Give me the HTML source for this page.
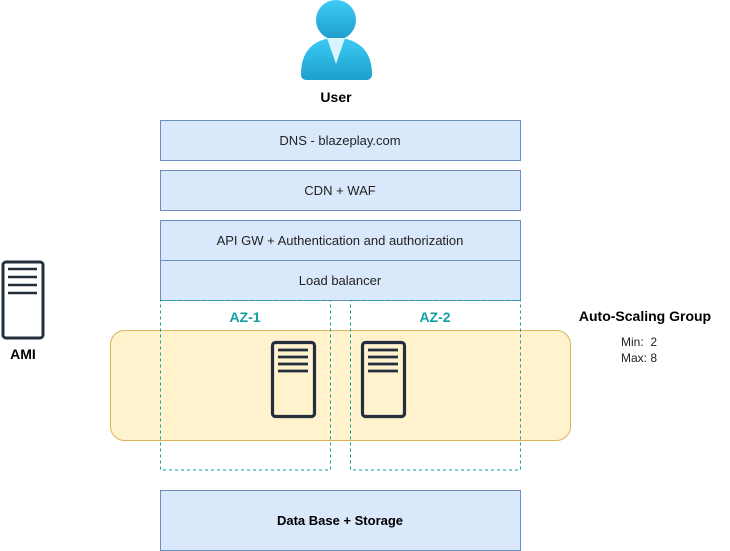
<!DOCTYPE html>
<html><head><style>body{margin:0;background:#fff}svg{display:block}</style></head><body>
<svg width="730" height="551" viewBox="0 0 730 551" xmlns="http://www.w3.org/2000/svg" font-family="Liberation Sans, Arial, sans-serif">
<defs><linearGradient id="ug" x1="0" y1="0" x2="0" y2="1"><stop offset="0" stop-color="#3ccbf4"/><stop offset="1" stop-color="#1d9ecb"/></linearGradient></defs>
<circle cx="336" cy="20" r="20" fill="url(#ug)"/>
<path d="M301 74 C301 50 315 38 336 38 C357 38 372 50 372 74 Q372 80 366 80 L307 80 Q301 80 301 74 Z" fill="url(#ug)"/>
<path d="M327 38 L345 38 L336 64 Z" fill="#d6f5fd"/>
<text x="336" y="102" font-size="14" font-weight="bold" text-anchor="middle" fill="#000">User</text>
<g fill="#dae8fc" stroke="#6c8ebf" stroke-width="1">
<rect x="160.5" y="120.5" width="360" height="40"/>
<rect x="160.5" y="170.5" width="360" height="40"/>
<rect x="160.5" y="220.5" width="360" height="40"/>
<rect x="160.5" y="260.5" width="360" height="40"/>
<rect x="160.5" y="490.5" width="360" height="60"/>
</g>
<g font-size="13" text-anchor="middle" fill="#222">
<text x="340" y="145">DNS - blazeplay.com</text>
<text x="340" y="195">CDN + WAF</text>
<text x="340" y="245">API GW + Authentication and authorization</text>
<text x="340" y="285">Load balancer</text>
</g>
<text x="340" y="525" font-size="13" font-weight="bold" text-anchor="middle" fill="#000">Data Base + Storage</text>
<rect x="110.5" y="330.5" width="460" height="110" rx="14" fill="#fff2cc" stroke="#d6b656"/>
<g fill="none" stroke="#10a0a0" stroke-width="1" stroke-dasharray="3,3">
<rect x="160.5" y="300.5" width="170" height="169.5"/>
<rect x="350.5" y="300.5" width="170" height="169.5"/>
</g>
<g font-size="14" font-weight="bold" fill="#10a0a0" text-anchor="middle">
<text x="245" y="322">AZ-1</text><text x="435" y="322">AZ-2</text>
</g>
<g fill="none" stroke="#232f3e">
<rect x="272.5" y="342.5" width="42" height="74" rx="3" stroke-width="3.2"/>
<path d="M278 350H308M278 357H308M278 364H308M278 371H308" stroke-width="2.8"/>
<rect x="362.5" y="342.5" width="42" height="74" rx="3" stroke-width="3.2"/>
<path d="M368 350H398M368 357H398M368 364H398M368 371H398" stroke-width="2.8"/>
<rect x="3" y="262" width="40" height="76" rx="3" stroke-width="3"/>
<path d="M8 269H37M8 277H37M8 285H37M8 293H37" stroke-width="2.6"/>
</g>
<text x="23" y="359" font-size="14" font-weight="bold" text-anchor="middle" fill="#000">AMI</text>
<text x="645" y="321" font-size="14" font-weight="bold" text-anchor="middle" fill="#000">Auto-Scaling Group</text>
<text x="621" y="346" font-size="12" fill="#222">Min:&#160; 2</text>
<text x="621" y="362" font-size="12" fill="#222">Max: 8</text>
</svg>
</body></html>
